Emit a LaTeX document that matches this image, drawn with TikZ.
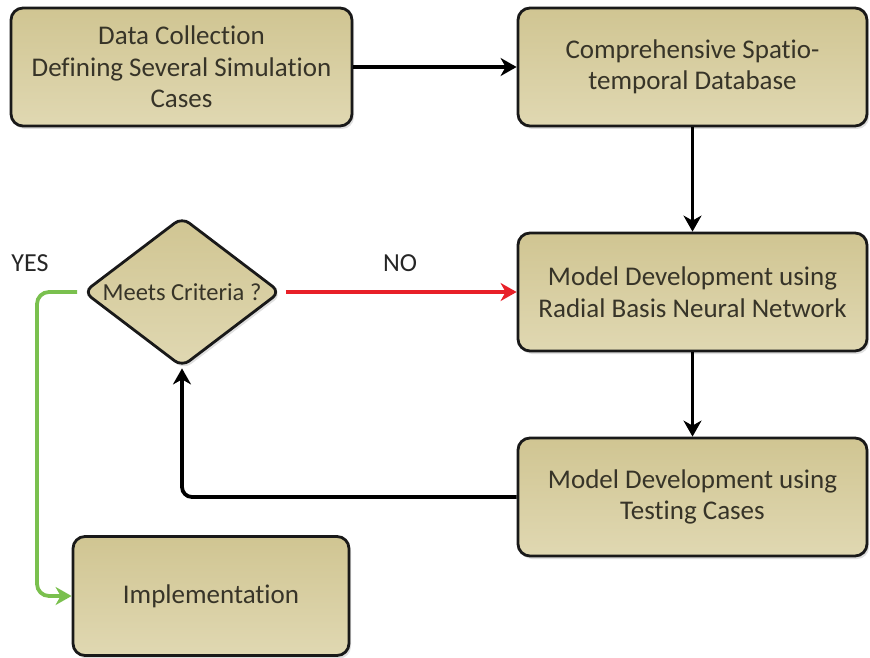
\documentclass[tikz,border=0pt]{standalone}
\usepackage{fontspec}
\setmainfont{Carlito}[Ligatures=NoCommon]
\usetikzlibrary{arrows.meta,shapes.geometric,shadows}
\definecolor{boxfill}{RGB}{208,197,146}
\definecolor{boxfill2}{RGB}{224,216,178}
\definecolor{txt}{RGB}{55,52,40}
\definecolor{yesg}{RGB}{122,192,78}
\definecolor{nored}{RGB}{232,32,40}
\begin{document}
\begin{tikzpicture}[x=1pt,y=-1pt,
  box/.style={draw=black!90, line width=2.8pt, rounded corners=12pt,
    top color=boxfill, bottom color=boxfill2, align=center, text=txt,
    font=\fontsize{27}{31.5}\selectfont, inner sep=0pt,
    drop shadow={shadow xshift=2pt,shadow yshift=-3pt,opacity=0.25}},
  dia/.style={diamond, draw=black!90, line width=2.8pt, rounded corners=9pt,
    top color=boxfill, bottom color=boxfill2, inner sep=0pt,
    minimum width=197pt, minimum height=150pt,
    drop shadow={shadow xshift=2pt,shadow yshift=-3pt,opacity=0.25}},
  lbl/.style={text=txt, font=\fontsize{24.5}{30}\selectfont},
  arr/.style={draw=black, line width=3.8pt, -{Stealth[length=16pt,width=18pt,inset=5pt]}},
  tag/.style={text=black!85, font=\fontsize{26}{30}\selectfont},
]
\useasboundingbox (0,0) rectangle (870,658);
\node[box, minimum width=341pt, minimum height=118pt] (b1) at (181.5,67) {Data Collection\\Defining Several Simulation\\Cases};
\node[box, minimum width=349pt, minimum height=118pt] (b2) at (692.5,67) {Comprehensive Spatio-\\temporal Database};
\node[box, minimum width=349pt, minimum height=118pt] (b3) at (692.5,292) {Model Development using\\Radial Basis Neural Network};
\node[box, minimum width=349pt, minimum height=118pt] (b4) at (692.5,497) {Model Development using\\Testing Cases};
\node[box, minimum width=276pt, minimum height=119pt] (b5) at (211,596) {Implementation};
\node[dia] (d) at (182,292) {};
\node[lbl] (dt) at (d.center) {Meets Criteria ?};
\coordinate (gturn) at (37,292);
\node[tag] (yes) at (30,263) {YES};
\node[tag] (no) at (400,263) {NO};
\draw[arr] (b1) -- (b2);
\draw[arr] (b2) -- (b3);
\draw[arr] (b3) -- (b4);
\draw[arr, rounded corners=10pt] (b4.west) -| (d.south);
\draw[arr, draw=nored, -{Stealth[length=16pt,width=18pt,inset=5pt,color=nored]}, shorten <=4pt] (d.east) -- (b3.west);
\draw[arr, draw=yesg, -{Stealth[length=16pt,width=18pt,inset=5pt,color=yesg]}, rounded corners=12pt, shorten <=5pt] (d.west) -- (gturn) |- (b5.west);
\end{tikzpicture}
\end{document}
